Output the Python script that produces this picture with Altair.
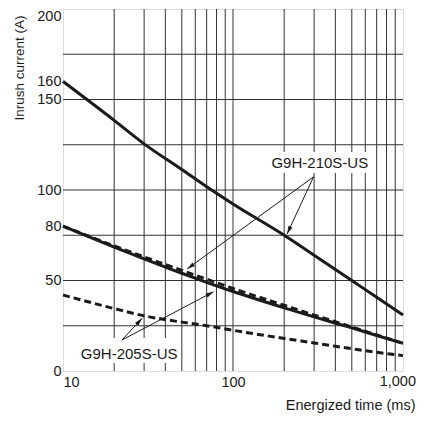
import math
import altair as alt
import pandas as pd

# ---- data ----
time_ms = [10, 20, 30, 50, 70, 100, 200, 300, 500, 700, 1000]
g210_solid = [160, 138.5, 125.5, 111.3, 101.8, 92.3, 75, 64, 50, 40.7, 31]
g210_dashed = [80, 69.1, 63, 55.6, 50.7, 45.6, 36.3, 30.9, 24.3, 19.9, 15.3]
g205_solid = [80, 68.5, 62, 54, 49, 43.9, 34.9, 29.9, 23.8, 19.6, 15.3]
g205_dashed = [42, 34.5, 30.5, 27, 25, 22.5, 18, 15.5, 12.3, 10.3, 8.5]

x_grid = [20, 30, 40, 50, 60, 70, 80, 90, 100, 200, 300, 400, 500, 600, 700, 800, 900]
y_grid = [25, 50, 75, 100, 125, 150, 175]
x_ticks = [10, 100, 1000]
y_ticks = [0, 50, 80, 100, 150, 160, 200]

label_text = ["G9H-210S-US", "G9H-205S-US"]
label_t = [324, 24.5]
label_a = [114.9, 9.4]
box_t1 = [161, 12.5]
box_t2 = [634, 48.3]
box_a1 = [121, 18.2]
box_a2 = [109.4, 4.4]

arrow_t1 = [298, 298, 22.2, 22.2]
arrow_a1 = [107.3, 107.3, 17.1, 17.1]
arrow_t2 = [53.8, 208, 29.2, 76.9]
arrow_a2 = [56.4, 75.7, 29.1, 43.8]

W, H = 340, 362
FONT = "Liberation Sans"
INK = "#1a1a1a"

def px(t, a):
    return W * (math.log10(t) - 1) / 2, H * (1 - a / 200)

angles = []
for t1, a1, t2, a2 in zip(arrow_t1, arrow_a1, arrow_t2, arrow_a2):
    x1, y1 = px(t1, a1)
    x2, y2 = px(t2, a2)
    angles.append(math.degrees(math.atan2(x2 - x1, -(y2 - y1))) % 360)

curves = pd.DataFrame({
    "t": time_ms * 4,
    "a": g210_solid + g205_solid + g210_dashed + g205_dashed,
    "s": ["210s"] * 11 + ["205s"] * 11 + ["210d"] * 11 + ["205d"] * 11,
})
arrows = pd.DataFrame({"t1": arrow_t1, "a1": arrow_a1, "t2": arrow_t2, "a2": arrow_a2, "ang": angles})
labels = pd.DataFrame({"txt": label_text, "t": label_t, "a": label_a,
                       "bt1": box_t1, "bt2": box_t2, "ba1": box_a1, "ba2": box_a2})

xscale = alt.Scale(type="log", domain=[10, 1000], nice=False)
yscale = alt.Scale(domain=[0, 200], nice=False, zero=False)

xaxis = alt.Axis(
    values=x_ticks, format=",", grid=False, ticks=False, domain=False,
    labelFont=FONT, labelFontSize=14.5, labelColor=INK, labelPadding=4,
    labelFlush=False, labelOverlap=False, labelBound=False,
    labelAlign={"condition": {"test": "datum.value == 10", "value": "left"}, "value": "center"},
    labelExpr="datum.value == 1000 ? '' : datum.label",
    title="Energized time (ms)", titleFont=FONT, titleFontSize=14.5, titleFontWeight="normal",
    titleColor=INK, titleAlign="right", titleBaseline="middle", titleX=352, titleY=34,
)
yaxis = alt.Axis(
    values=y_ticks, grid=False, ticks=False, domain=False,
    labelFont=FONT, labelFontSize=14.5, labelColor=INK, labelPadding=2,
    labelFlush=False, labelOverlap=False,
    labelBaseline={"condition": {"test": "datum.value == 200", "value": "top"}, "value": "middle"},
    title="Inrush current (A)", titleFont=FONT, titleFontSize=13.5, titleFontWeight="normal",
    titleColor=INK, titleAngle=270, titleAlign="right", titleBaseline="middle",
    titleX=-44, titleY=6,
)

def X(f):
    return alt.X(f, type="quantitative", scale=xscale, axis=xaxis)

def Y(f):
    return alt.Y(f, type="quantitative", scale=yscale, axis=yaxis)

vgrid = alt.Chart(pd.DataFrame({"t": x_grid})).mark_rule(color="#333", strokeWidth=1).encode(x=X("t"))
hgrid = alt.Chart(pd.DataFrame({"a": y_grid})).mark_rule(color="#333", strokeWidth=1).encode(y=Y("a"))

boxes = alt.Chart(labels).mark_rect(color="white").encode(
    x=X("bt1"), x2="bt2", y=Y("ba1"), y2="ba2")

solid = alt.Chart(curves).transform_filter("datum.s == '210s' || datum.s == '205s'").mark_line(
    color=INK, strokeWidth=3, interpolate="monotone").encode(x=X("t"), y=Y("a"), detail="s:N")
dashed = alt.Chart(curves).transform_filter("datum.s == '210d' || datum.s == '205d'").mark_line(
    color=INK, strokeWidth=3, strokeDash=[7, 4], interpolate="monotone").encode(x=X("t"), y=Y("a"), detail="s:N")

arrow_lines = alt.Chart(arrows).mark_rule(color=INK, strokeWidth=1).encode(
    x=X("t1"), y=Y("a1"), x2="t2", y2="a2")
heads = alt.Chart(arrows).mark_point(
    shape="M0,0L0.55,2L-0.55,2Z", filled=True, color=INK, opacity=1, size=64, strokeWidth=0
).encode(x=X("t2"), y=Y("a2"), angle=alt.Angle("ang:Q", scale=None))

texts = alt.Chart(labels).mark_text(font=FONT, fontSize=15, color=INK, baseline="middle", align="center").encode(
    x=X("t"), y=Y("a"), text="txt:N")

# 1,000 label kept inside the canvas: right-aligned near the frame's right edge
xlab_1000 = alt.Chart(pd.DataFrame({"t": [1000]})).mark_text(
    font=FONT, fontSize=14.5, color=INK, align="right", baseline="top", dx=13, dy=4
).encode(x=X("t"), y=alt.value(H), text=alt.Text("t:Q", format=","))

chart = alt.layer(vgrid, hgrid, boxes, dashed, solid, arrow_lines, heads, texts, xlab_1000).properties(
    width=W, height=H,
    autosize=alt.AutoSizeParams(type="none"),
    padding={"left": 55, "top": 1, "right": 13, "bottom": 42},
).configure_view(stroke="black", strokeWidth=1.5).configure(background="white")

chart.save("out.html", embed_options={"renderer": "svg", "actions": False})
